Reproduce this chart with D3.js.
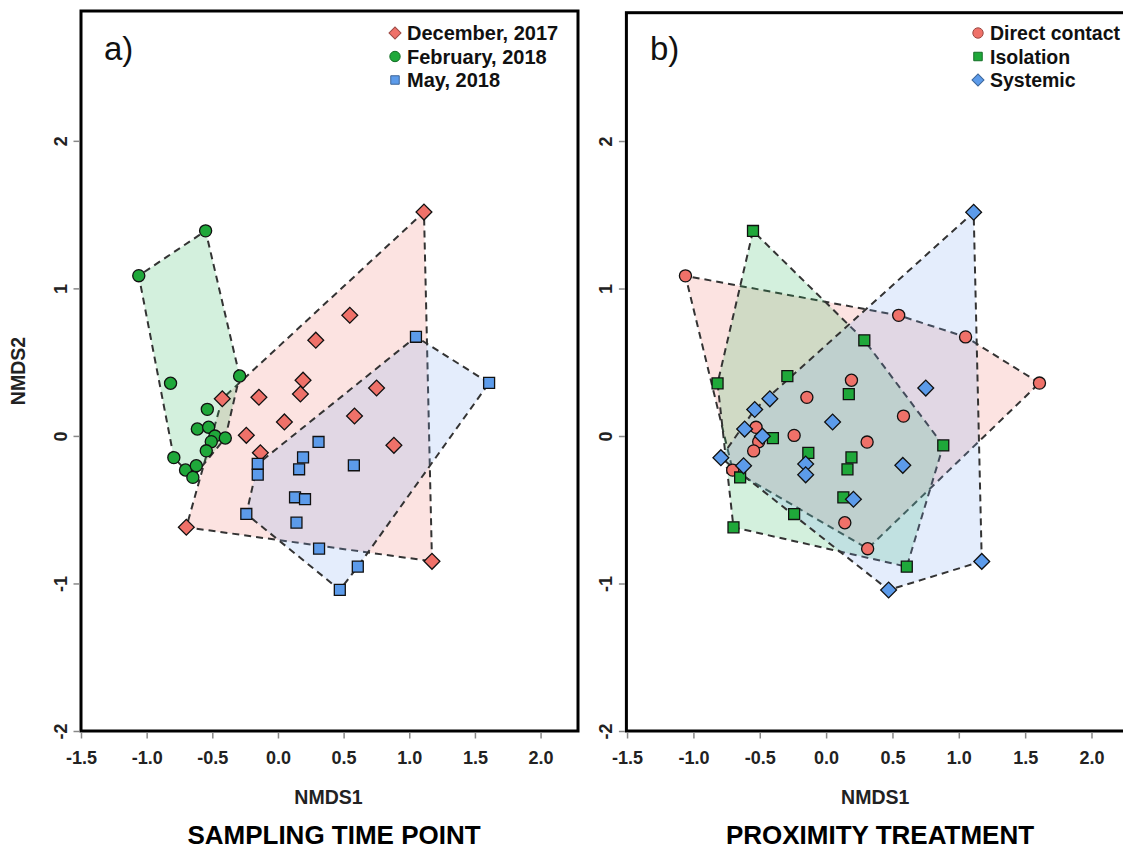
<!DOCTYPE html>
<html>
<head>
<meta charset="utf-8">
<script src="https://cdn.jsdelivr.net/npm/d3@7"></script>
<style>
  body { margin: 0; background: #fff; }
  svg { display: block; }
  text { font-family: "Liberation Sans", Arial, Helvetica, sans-serif; }
</style>
</head>
<body>
<svg id="fig" width="1123" height="850"></svg>
<script>
// NMDS scores per sample (December 2017, then February 2018, then May 2018)
const nmds1 = [
   1.112,  0.547,  0.288,  0.191,  0.171, -0.145, -0.424,  0.049,  0.751,  0.583, -0.241, -0.134,  0.883, -0.698,  1.173,
  -1.060, -0.551, -0.818, -0.292, -0.538, -0.614, -0.528, -0.480, -0.401, -0.508, -0.546, -0.793, -0.704, -0.622, -0.648,
   1.051,  1.608,  0.309,  0.191,  0.161, -0.154, -0.154,  0.578,  0.130,  0.206, -0.241,  0.141,  0.313,  0.608,  0.471
];
const nmds2 = [
   1.517,  0.818,  0.649,  0.378,  0.284,  0.262,  0.252,  0.095,  0.325,  0.135,  0.004, -0.114, -0.064, -0.619, -0.850,
   1.086,  1.390,  0.357,  0.406,  0.180,  0.047,  0.059, -0.001, -0.014, -0.039, -0.101, -0.147, -0.231, -0.202, -0.281,
   0.672,  0.359, -0.041, -0.145, -0.226, -0.190, -0.263, -0.199, -0.416, -0.429, -0.529, -0.588, -0.764, -0.886, -1.044
];
// sampling time point index per sample
const timePoint = [
  0,0,0,0,0,0,0,0,0,0,0,0,0,0,0,
  1,1,1,1,1,1,1,1,1,1,1,1,1,1,1,
  2,2,2,2,2,2,2,2,2,2,2,2,2,2,2
];
// proximity treatment index per sample (0 direct contact, 1 isolation, 2 systemic)
const treatment = [
  2,0,1,0,1,0,2,2,2,0,0,1,1,1,2,
  0,1,1,1,2,2,0,2,1,0,0,2,0,2,1,
  0,0,0,1,1,2,2,2,1,2,1,0,0,1,2
];
const timeLabels = ["December, 2017", "February, 2018", "May, 2018"];
const treatmentLabels = ["Direct contact", "Isolation", "Systemic"];
const xTicks = [-1.5, -1.0, -0.5, 0.0, 0.5, 1.0, 1.5, 2.0];
const yTicks = [-2, -1, 0, 1, 2];

const RED = "#EF7169", GREEN = "#1FA83A", BLUE = "#5C9BEA";
const HULL = { [RED]: "#F07A72", [GREEN]: "#2EB85E", [BLUE]: "#7FA8F0" };

const samples = nmds1.map((x, i) => ({ x, y: nmds2[i], time: timePoint[i], trt: treatment[i] }));

const svg = d3.select("#fig");

const shapes = {
  diamond: d3.symbol().type(d3.symbolSquare).size(125),
  circle: d3.symbol().type(d3.symbolCircle).size(115),
  square: d3.symbol().type(d3.symbolSquare).size(120)
};

function panel(opts) {
  const { left, right, top, bottom, xDomain, yDomain, groupKey, labels, colors, markers,
          tag, tagX, title, titleX, legendX, legendSize, showYLabel } = opts;
  const x = d3.scaleLinear().domain(xDomain).range([left, right]);
  const y = d3.scaleLinear().domain(yDomain).range([bottom, top]);
  const g = svg.append("g");
  const clipId = "clip-" + tag[0];
  g.append("clipPath").attr("id", clipId)
    .append("rect").attr("x", left).attr("y", top).attr("width", right - left).attr("height", bottom - top);

  const plot = g.append("g").attr("clip-path", `url(#${clipId})`);

  // convex hulls for each group
  labels.forEach((_, k) => {
    const pts = samples.filter(s => s[groupKey] === k).map(s => [x(s.x), y(s.y)]);
    const hull = d3.polygonHull(pts);
    plot.append("path")
      .attr("d", "M" + hull.join("L") + "Z")
      .attr("fill", HULL[colors[k]]).attr("fill-opacity", 0.21)
      .attr("stroke", "#333").attr("stroke-width", 2)
      .attr("stroke-dasharray", "7,5");
  });

  // sample markers
  labels.forEach((_, k) => {
    samples.filter(s => s[groupKey] === k).forEach(s => {
      const m = markers[k];
      plot.append("path")
        .attr("d", shapes[m]())
        .attr("transform", `translate(${x(s.x)},${y(s.y)})` + (m === "diamond" ? " rotate(45)" : ""))
        .attr("fill", colors[k]).attr("stroke", "#111").attr("stroke-width", 1.3);
    });
  });

  // frame
  g.append("rect").attr("x", left).attr("y", top).attr("width", right - left).attr("height", bottom - top)
    .attr("fill", "none").attr("stroke", "#000").attr("stroke-width", 3);

  // x axis
  const xa = g.append("g").attr("transform", `translate(0,${bottom + 1.5})`)
    .call(d3.axisBottom(x).tickValues(xTicks).tickSize(6).tickPadding(13));
  xa.select(".domain").remove();
  xa.selectAll("line").attr("stroke", "#888").attr("stroke-width", 1.5);
  xa.selectAll("text").attr("font-size", 18).attr("font-weight", "bold").attr("fill", "#222")
    .text(d => d3.format(".1f")(d).replace("−", "-"));

  // y axis
  const ya = g.append("g").attr("transform", `translate(${left - 1.5},0)`)
    .call(d3.axisLeft(y).tickValues(yTicks).tickSize(6));
  ya.select(".domain").remove();
  ya.selectAll("line").attr("stroke", "#888").attr("stroke-width", 1.5);
  ya.selectAll("text")
    .attr("font-size", 18).attr("font-weight", "bold").attr("fill", "#222")
    .attr("x", null).attr("dy", null).attr("text-anchor", "middle")
    .attr("transform", "translate(-13,0) rotate(-90)")
    .text(d => String(d));

  // axis titles
  g.append("text").attr("x", (left + right) / 2 - 1).attr("y", 804)
    .attr("text-anchor", "middle").attr("font-size", 19.5).attr("font-weight", "bold").attr("fill", "#222")
    .text("NMDS1");
  if (showYLabel) {
    g.append("text").attr("transform", `translate(25,${(top + bottom) / 2}) rotate(-90)`)
      .attr("text-anchor", "middle").attr("font-size", 19.5).attr("font-weight", "bold").attr("fill", "#222")
      .text("NMDS2");
  }

  // panel tag
  g.append("text").attr("x", tagX).attr("y", 60).attr("font-size", 33).attr("fill", "#111").text(tag);

  // caption below the panel
  g.append("text").attr("x", titleX).attr("y", 844).attr("text-anchor", "middle")
    .attr("font-size", 26).attr("font-weight", "bold").attr("fill", "#000").text(title);

  // legend
  labels.forEach((lab, k) => {
    const cy = 33 + k * 23.5;
    const m = markers[k];
    g.append("path")
      .attr("d", d3.symbol().type(m === "circle" ? d3.symbolCircle : d3.symbolSquare).size(m === "circle" ? 85 : 72)())
      .attr("transform", `translate(${legendX},${cy})` + (m === "diamond" ? " rotate(45)" : ""))
      .attr("fill", colors[k]).attr("stroke", d3.color(colors[k]).darker(1.2)).attr("stroke-width", 1);
    g.append("text").attr("x", legendX + 12).attr("y", cy + 7)
      .attr("font-size", legendSize).attr("font-weight", "bold").attr("fill", "#111").text(lab);
  });
}

panel({
  left: 81, right: 578, top: 11, bottom: 731,
  xDomain: [-1.5, 2.285], yDomain: [-2, 2.88],
  groupKey: "time", labels: timeLabels, colors: [RED, GREEN, BLUE],
  markers: ["diamond", "circle", "square"],
  tag: "a)", tagX: 104, title: "SAMPLING TIME POINT", titleX: 334, legendX: 395, legendSize: 20, showYLabel: true
});

panel({
  left: 626.4, right: 1126, top: 12.7, bottom: 731,
  xDomain: [-1.505, 2.26], yDomain: [-2, 2.87],
  groupKey: "trt", labels: treatmentLabels, colors: [RED, GREEN, BLUE],
  markers: ["circle", "square", "diamond"],
  tag: "b)", tagX: 650, title: "PROXIMITY TREATMENT", titleX: 880, legendX: 978, legendSize: 19.5, showYLabel: false
});
</script>
</body>
</html>
